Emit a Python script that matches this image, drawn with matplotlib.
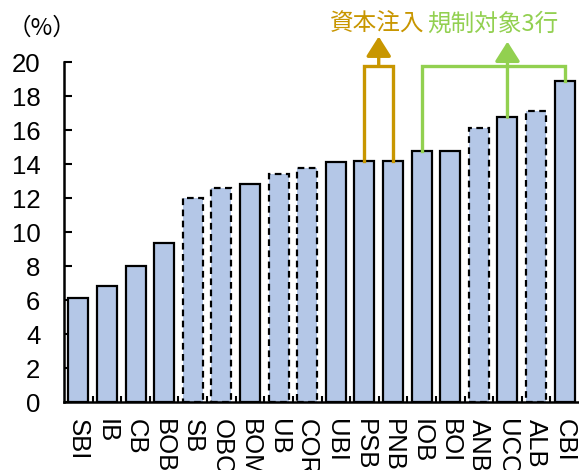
import matplotlib.pyplot as plt
from matplotlib.patches import FancyArrowPatch

plt.rcParams['font.family'] = ['Liberation Sans', 'Noto Sans CJK JP', 'DejaVu Sans']

# bank abbreviations and capital ratio (%)
banks = ["SBI", "IB", "CB", "BOB", "SB", "OBC", "BOM", "UB", "COR", "UBI",
         "PSB", "PNB", "IOB", "BOI", "ANB", "UCO", "ALB", "CBI"]
ratios = [6.1, 6.8, 8.0, 9.35, 12.0, 12.6, 12.8, 13.4, 13.75, 14.1,
          14.15, 14.2, 14.75, 14.75, 16.1, 16.75, 17.1, 18.9]
dashed = ["SB", "OBC", "UB", "COR", "ANB", "ALB"]

injected = ["PSB", "PNB"]
regulated = ["IOB", "CBI"]
regulated_mid = "UCO"

BAR = "#B4C7E7"
GOLD = "#C89600"
GREEN = "#92D050"

fig = plt.figure(figsize=(5.79, 4.70), dpi=100)
ax = fig.add_axes([64 / 579, 68 / 470, 515 / 579, 340 / 470])

x = list(range(len(banks)))
for i, (b, v) in enumerate(zip(banks, ratios)):
    ax.bar(i, v, width=0.7, color=BAR, edgecolor="black", linewidth=1.6,
           linestyle=(0, (3, 2)) if b in dashed else "-", zorder=2)

ax.set_xlim(-0.5, len(banks) - 0.5)
ax.set_ylim(0, 20)
ax.set_yticks(range(0, 21, 2))
ax.set_xticks([i + 0.5 for i in x[:-1]])
ax.set_xticklabels([])
ax.set_xticks(x, minor=True)
ax.set_xticklabels(banks, minor=True, rotation=270, fontsize=18.5)
ax.tick_params(axis="x", which="major", direction="in", length=4, width=1.5)
ax.tick_params(axis="x", which="minor", length=0, pad=12)
ax.tick_params(axis="y", direction="in", length=6, width=1.5, labelsize=18.5, pad=17)
for s in ["top", "right"]:
    ax.spines[s].set_visible(False)
for s in ["left", "bottom"]:
    ax.spines[s].set_linewidth(1.8)

top = 19.76


def bracket(left, right, color):
    i0, i1 = banks.index(left), banks.index(right)
    ax.plot([i0, i0, i1, i1], [ratios[i0], top, top, ratios[i1]],
            color=color, lw=2.4, clip_on=False, zorder=3,
            solid_joinstyle="miter")


def arrow(xpos, y0, y1, color):
    ax.add_patch(FancyArrowPatch((xpos, y0), (xpos, y1),
                                 arrowstyle="-|>,head_length=0.6,head_width=0.38",
                                 mutation_scale=20, color=color, lw=2.4,
                                 clip_on=False, zorder=3, shrinkA=0, shrinkB=0))


bracket(*injected, GOLD)
gx = (banks.index(injected[0]) + banks.index(injected[1])) / 2
arrow(gx, top, 21.5, GOLD)

bracket(*regulated, GREEN)
ux = banks.index(regulated_mid)
arrow(ux, ratios[ux], 21.2, GREEN)

ax.text(8.8, 22.2, "資本注入", color=GOLD, fontsize=17, ha="left", va="center",
        family=["Noto Sans CJK JP"])
ax.text(12.2, 22.2, "規制対象3行", color=GREEN, fontsize=17, ha="left", va="center",
        family=["Noto Sans CJK JP", "Liberation Sans"])

fig.text(8 / 579, 1 - 28 / 470, "（%）", fontsize=17, ha="left", va="center",
         family=["Noto Sans CJK JP", "Liberation Sans"])

fig.savefig("out.png", dpi=100)
